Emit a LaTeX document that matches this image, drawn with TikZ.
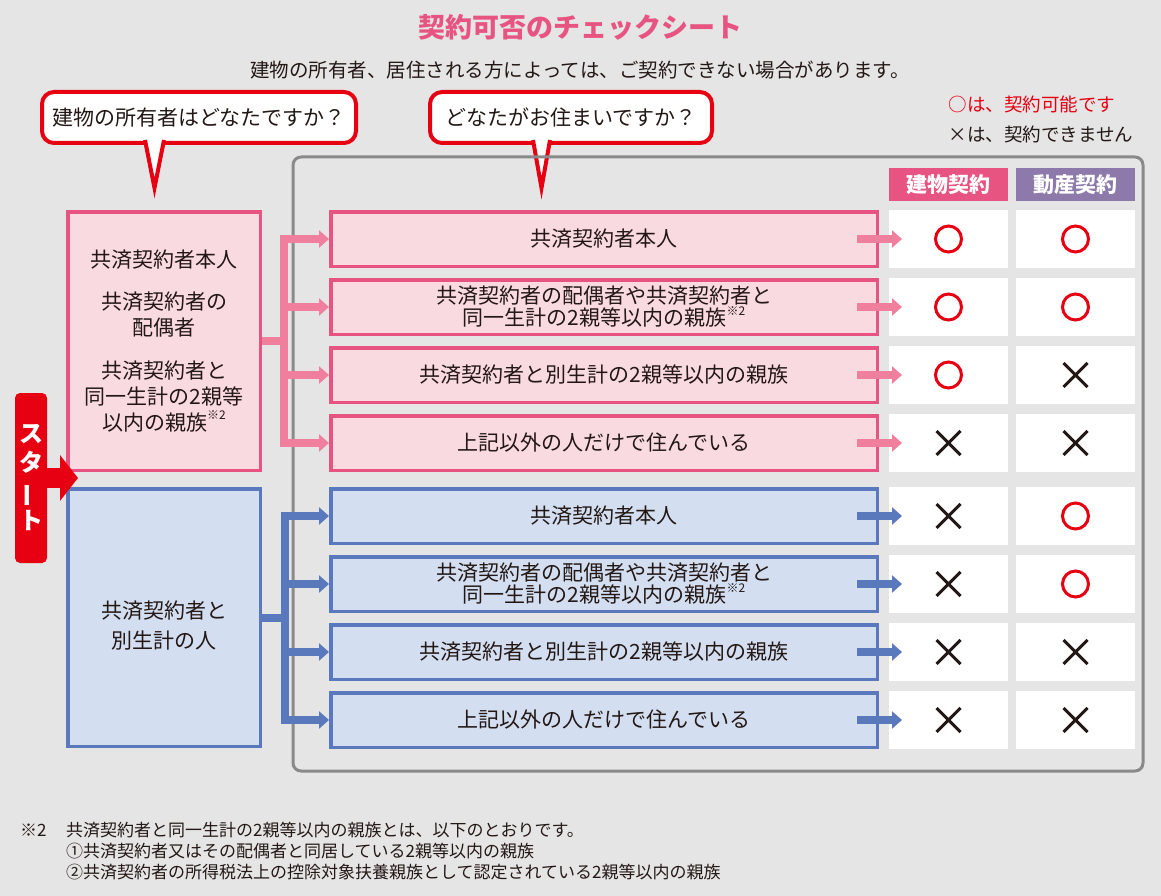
\documentclass[tikz,border=0pt]{standalone}
\usepackage{fontspec}
\setmainfont{Noto Sans CJK JP}
\usepackage{xcolor}
\usepackage{tikz}
\usetikzlibrary{positioning}
\usetikzlibrary{arrows.meta}
\usetikzlibrary{shapes.misc}

\definecolor{bggray}{HTML}{E5E5E5}
\definecolor{ink}{HTML}{231815}
\definecolor{chkred}{HTML}{E60012}
\definecolor{rosebd}{HTML}{E85482}
\definecolor{rosefill}{HTML}{F9DAE1}
\definecolor{roseline}{HTML}{EF7F9C}
\definecolor{bluebd}{HTML}{5A78BC}
\definecolor{bluefill}{HTML}{D3DEF0}
\definecolor{lilac}{HTML}{8E7AAA}
\definecolor{framegray}{HTML}{8A8A8A}

\newcommand{\fsz}[2]{\fontsize{#1}{#2}\selectfont}
\newcommand{\kome}{\raisebox{0.5em}{\fsz{12}{12}※2}}

\tikzset{
	pinkbox/.style={draw=rosebd, fill=rosefill, line width=3.5pt, text=ink, align=center, inner sep=0pt},
	bluebox/.style={draw=bluebd, fill=bluefill, line width=3.5pt, text=ink, align=center, inner sep=0pt},
	pinkrow/.style={pinkbox, font=\fsz{21}{22}, minimum width=546.5pt, minimum height=54.5pt},
	bluerow/.style={bluebox, font=\fsz{21}{22}, minimum width=546.5pt, minimum height=54.5pt},
	cell/.style={fill=white, minimum width=119pt, minimum height=58pt, outer sep=0pt, inner sep=0pt},
	colhead/.style={minimum width=119pt, minimum height=33pt, outer sep=0pt, inner sep=0pt, text=white, font=\fsz{21}{23}\bfseries},
	okmark/.style={circle, draw=chkred, line width=3pt, minimum size=26pt, inner sep=0pt},
	ngmark/.style={cross out, draw=ink, line width=3pt, minimum size=21pt, inner sep=0pt},
	pinkflow/.style={roseline, line width=8pt, -{Triangle[length=10pt,width=17pt]}},
	blueflow/.style={bluebd, line width=8pt, -{Triangle[length=10pt,width=17pt]}},
	bubble/.style={draw=chkred, fill=white, line width=4pt, rounded corners=12pt, minimum height=51pt, inner sep=0pt, text=ink, font=\fsz{21}{23}},
	bubbletail/.style={draw=chkred, fill=white, line width=4pt, line join=miter},
	starttab/.style={fill=chkred, rounded corners=5pt, minimum width=32pt, minimum height=170pt, inner sep=0pt, text=white, align=center, font=\fsz{24}{29}\bfseries},
	startflow/.style={chkred, line width=20pt, -{Triangle[length=18pt,width=45pt]}},
	note/.style={anchor=west, inner sep=0pt, text=ink, font=\fsz{17}{21}},
}

\begin{document}
\begin{tikzpicture}[x=1pt,y=-1pt]
	\fill[bggray] (0,0) rectangle (1161,896);
	\useasboundingbox (0,0) rectangle (1161,896);
	% heading
	\node[font=\fsz{27}{30}\bfseries, text=rosebd] (title) at (580,27) {契約可否のチェックシート};
	\node[font=\fsz{19.5}{22}, text=ink] (lead) at (580,70) {建物の所有者、居住される方によっては、ご契約できない場合があります。};
	% questions
	\node[bubble, minimum width=314pt] (askowner) at (199,117.5) {建物の所有者はどなたですか？};
	\draw[bubbletail] (askowner.south) ++(-54,-5) -- ++(9.5,48) -- ++(9.5,-48);
	\node[bubble, minimum width=282pt] (askhome) at (571,117.5) {どなたがお住まいですか？};
	\draw[bubbletail] (askhome.south) ++(-38,-5) -- ++(8.5,48) -- ++(8.5,-48);
	% legend
	\node[font=\fsz{18.5}{21}, text=chkred, anchor=west] (legok) at (945,104) {○は、契約可能です};
	\node[font=\fsz{18.5}{21}, text=ink, anchor=west] (legng) at (945,134) {×は、契約できません};
	\draw[framegray, line width=3pt, rounded corners=8pt] (293,157) rectangle (1143,771);
	% owners
	\node[pinkbox, minimum width=192.5pt, minimum height=258.5pt, font=\fsz{21}{26}] (powner) at (164,341)
		{共済契約者本人\\[16pt]共済契約者の\\配偶者\\[17pt]共済契約者と\\同一生計の2親等\\以内の親族\kome};
	\node[bluebox, minimum width=192.5pt, minimum height=257.5pt] (bowner) at (164,617.5) {};
	\node[font=\fsz{21}{30}, text=ink, align=center] (btext) at (164,626) {共済契約者と\\別生計の人};
	% residents
	\node[pinkrow] (prow1) at (604,239) {共済契約者本人};
	\node[pinkrow, below=10pt of prow1] (prow2) {共済契約者の配偶者や共済契約者と\\同一生計の2親等以内の親族\kome};
	\node[pinkrow, below=10pt of prow2] (prow3) {共済契約者と別生計の2親等以内の親族};
	\node[pinkrow, below=10pt of prow3] (prow4) {上記以外の人だけで住んでいる};
	\node[bluerow] (brow1) at (604,516) {共済契約者本人};
	\node[bluerow, below=10pt of brow1] (brow2) {共済契約者の配偶者や共済契約者と\\同一生計の2親等以内の親族\kome};
	\node[bluerow, below=10pt of brow2] (brow3) {共済契約者と別生計の2親等以内の親族};
	\node[bluerow, below=10pt of brow3] (brow4) {上記以外の人だけで住んでいる};
	% result cells
	\foreach \i in {1,...,4}{
		\node[cell, right=10pt of prow\i] (p\i1) {};
		\node[cell, right=8pt of p\i1] (p\i2) {};
		\node[cell, right=10pt of brow\i] (b\i1) {};
		\node[cell, right=8pt of b\i1] (b\i2) {};
	}
	\node[colhead, fill=rosebd, above=9pt of p11] (hbuild) {建物契約};
	\node[colhead, fill=lilac, above=9pt of p12] (hgoods) {動産契約};
	% branches
	\coordinate (pfork) at (284,341);
	\coordinate (bfork) at (284.5,617.5);
	\draw[pinkflow, -] (powner.east) -- (pfork);
	\draw[blueflow, -] (bowner.east) -- (bfork);
	\foreach \i in {1,...,4}{
		\draw[pinkflow] (pfork) |- (prow\i.west);
		\draw[blueflow] (bfork) |- (brow\i.west);
		\draw[pinkflow] ([xshift=-22pt]prow\i.east) -- ([xshift=13pt]p\i1.west);
		\draw[blueflow] ([xshift=-22pt]brow\i.east) -- ([xshift=13pt]b\i1.west);
	}
	\foreach \r/\ma/\mb in {p1/okmark/okmark, p2/okmark/okmark, p3/okmark/ngmark, p4/ngmark/ngmark,
		b1/ngmark/okmark, b2/ngmark/okmark, b3/ngmark/ngmark, b4/ngmark/ngmark}{
		\node[\ma] (m\r1) at (\r1) {};
		\node[\mb] (m\r2) at (\r2) {};
	}
	% start
	\node[starttab] (start) at (31,478) {ス\\タ\\\rotatebox[origin=c]{90}{ー}\\ト};
	\coordinate (starttip) at (78,478);
	\draw[startflow] (start.east) -- (starttip);
	% footnote
	\node[note] (nmark) at (20,830) {※2};
	\node[note] (note1) at (66,830) {共済契約者と同一生計の2親等以内の親族とは、以下のとおりです。};
	\node[note] (note2) at (66,851) {①共済契約者又はその配偶者と同居している2親等以内の親族};
	\node[note] (note3) at (66,872) {②共済契約者の所得税法上の控除対象扶養親族として認定されている2親等以内の親族};
\end{tikzpicture}
\end{document}
